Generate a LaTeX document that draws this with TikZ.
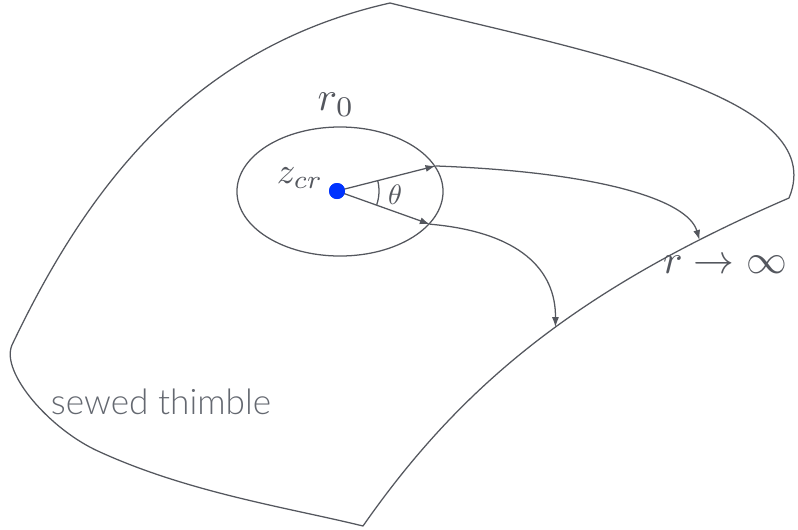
\documentclass[tikz,border=0pt]{standalone}
\usepackage{graphicx}
\usepackage{fontspec}
\setsansfont{Lato}[UprightFont={* Light}]
\usepackage{tikz}
\usetikzlibrary{arrows.meta,positioning,shapes.geometric}
\definecolor{edgegray}{RGB}{84,87,94}
\definecolor{textgray}{RGB}{100,104,112}
\definecolor{critblue}{RGB}{0,51,255}

\begin{document}
\begin{tikzpicture}[
    x=0.025cm, y=-0.025cm,
    line/.style={draw=edgegray, line width=0.9pt},
    arrow/.style={line, -{Latex[length=7pt, width=5pt]}},
    lbl/.style={text=edgegray, inner sep=0pt}
  ]
  \useasboundingbox (0,0) rectangle (798,529);
  % thimble outline
  \draw[line, line join=round] (390,3)
    .. controls (195,47) and (89,183) .. (12,345)
    .. controls (0,372) and (50,430) .. (100,452)
    .. controls (190,493) and (290,508) .. (363,526)
    .. controls (460,387) and (576,290) .. (789,198)
    coordinate[pos=0.555] (hit2) coordinate[pos=0.85] (hit1)
    .. controls (832,95) and (584,51) .. cycle;

  % disk around the critical point
  \node[ellipse, line, minimum width=5.15cm, minimum height=3.225cm, inner sep=0pt] (disk) at (340,191.5) {};
  \node[circle, fill=critblue, minimum size=0.4cm, inner sep=0pt] (zcr) at (337,191) {};

  \draw[arrow] (zcr.center) -- (disk.15);
  \draw[arrow] (zcr.center) -- (disk.-20);
  \draw[arrow] (disk.15) .. controls (600,172) and (688,200) .. (hit1);
  \draw[arrow] (disk.-20) .. controls (520,232) and (556,270) .. (hit2);
  \draw[line] (zcr.center) ++(-14:42) arc[start angle=-14, end angle=19, radius=42];
  \node[circle, fill=critblue, minimum size=0.4cm, inner sep=0pt] at (zcr) {};

  % labels
  \node[lbl] (rzero) at (336,105) {\scalebox{2.9}{$r_0$}};
  \node[lbl] (zname) at (300,178) {\scalebox{2.6}{$z_{cr}$}};
  \node[lbl] (theta) at (395,195) {\scalebox{2.0}{$\theta$}};
  \node[lbl] (rinf) at (725,265) {\scalebox{2.9}{$r\to\infty$}};
  \node[lbl, text=textgray, font=\sffamily\fontsize{25}{29}\selectfont] (sewed) at (161,402) {sewed thimble};
\end{tikzpicture}
\end{document}
